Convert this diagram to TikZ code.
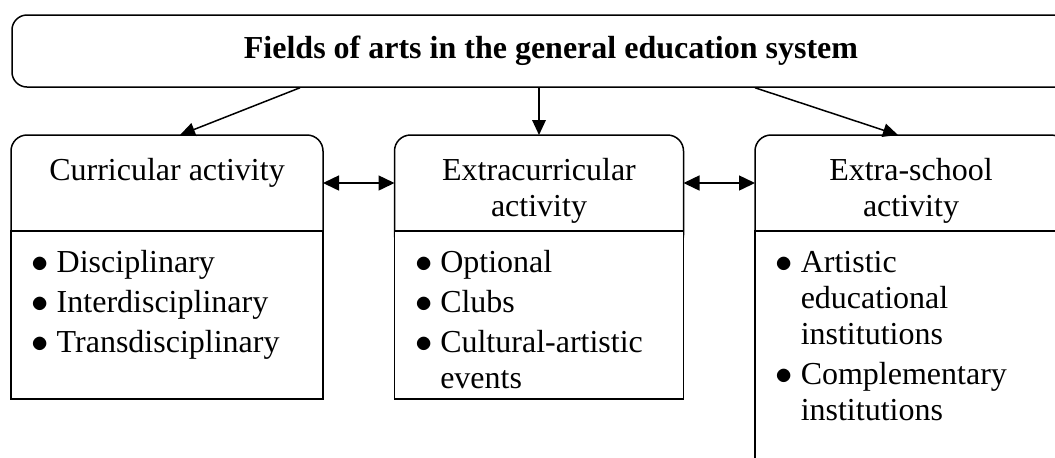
\documentclass[tikz,border=0pt]{standalone}
\usepackage{fontspec}
\setmainfont{Liberation Serif}
\usetikzlibrary{arrows.meta,positioning}

\newcommand{\artitem}[1]{\par\hangindent=12.5pt\hangafter=1\noindent\makebox[12.5pt][l]{$\bullet$}#1\par\vspace{2pt}}

\begin{document}
\begin{tikzpicture}[x=0.5pt,y=-0.5pt,line width=0.75pt,
	every node/.style={font=\fontsize{16}{18}\selectfont},
	titlebox/.style={draw,rounded corners=7.5pt,inner sep=0pt,minimum width=539pt,minimum height=36pt,font=\fontsize{16}{18}\selectfont\bfseries},
	headbox/.style={draw,rounded corners=8pt,inner sep=0pt,outer sep=0pt,anchor=north,minimum height=58pt},
	listbox/.style={draw,fill=white,inner sep=0pt,outer sep=0pt,anchor=north west},
	headtext/.style={inner sep=0pt,anchor=north,align=center},
	itemtext/.style={inner sep=0pt,anchor=north west,align=left,text width=#1},
	itemtext/.default=125pt,
	arr/.style={-{Triangle[length=7.5pt,width=6.8pt]}},
	dbl/.style={{Triangle[length=8pt,width=7.5pt]}-{Triangle[length=8pt,width=7.5pt]}}]
	\useasboundingbox (0,0) rectangle (1055,457);
	\clip (0,0) rectangle (1055,457);
	\node[titlebox] (title) at (551,51) {Fields of arts in the general education system};
	% header boxes, their lower part is hidden under the lists
	\node[headbox,minimum width=156pt] (curhead) at (167,135) {};
	\node[headbox,minimum width=144.5pt] (exthead) at (539,135) {};
	\node[headbox,minimum width=156pt] (outhead) at (911,135) {};
	\node[listbox,minimum width=156pt,minimum height=84pt] (curlist) at (curhead.north west |- 0,231) {};
	\node[listbox,minimum width=144.5pt,minimum height=84pt] (extlist) at (exthead.north west |- 0,231) {};
	\node[listbox,minimum width=156pt,minimum height=125pt] (outlist) at (outhead.north west |- 0,231) {};
	\node[headtext,below=11.5pt of curhead.north] {Curricular activity};
	\node[headtext,below=11.5pt of exthead.north] {Extracurricular\\activity};
	\node[headtext,below=11.5pt of outhead.north] {Extra-school\\activity};
	\node[itemtext,below right=2.5pt and 10pt of curlist.north west] (curitems) {\artitem{Disciplinary}\artitem{Interdisciplinary}\artitem{Transdisciplinary}};
	\node[itemtext,below right=2.5pt and 10pt of extlist.north west] (extitems) {\artitem{Optional}\artitem{Clubs}\artitem{Cultural-artistic\newline events}};
	\node[itemtext,below right=2.5pt and 10pt of outlist.north west] (outitems) {\artitem{Artistic\newline educational\newline institutions}\artitem{Complementary\newline institutions}};
	\draw[arr] ([xshift=-125.5pt]title.south) -- ([xshift=6.5pt]curhead.north);
	\draw[arr] ([xshift=-6pt]title.south) -- (exthead.north);
	\draw[arr] ([xshift=102pt]title.south) -- ([xshift=-6.5pt]outhead.north);
	\draw[dbl] ([yshift=5pt]curhead.east) -- ([yshift=5pt]exthead.west);
	\draw[dbl] ([yshift=5pt]exthead.east) -- ([yshift=5pt]outhead.west);
\end{tikzpicture}
\end{document}
